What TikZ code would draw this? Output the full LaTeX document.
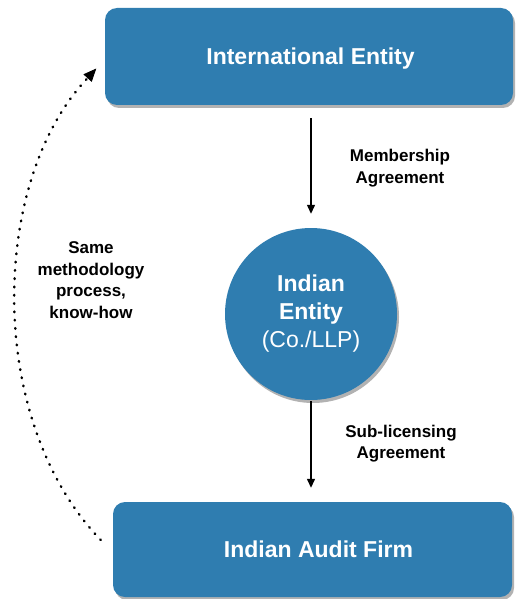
\documentclass[tikz,border=0pt]{standalone}
\usepackage{fontspec}
\setmainfont{Liberation Sans}
\usetikzlibrary{arrows.meta,shadows}
\definecolor{entityblue}{RGB}{47,125,176}
\begin{document}
\begin{tikzpicture}[x=1pt,y=-1pt,
  shade/.style={drop shadow={shadow xshift=2pt,shadow yshift=-3pt,fill=black,opacity=0.3}},
  card/.style={fill=entityblue,rounded corners=12pt,shade,text=white,
    inner sep=0pt,text height=16.5pt,text depth=0pt,
    font=\bfseries\fontsize{23}{28}\selectfont},
  hub/.style={circle,fill=entityblue,shade,text=white,inner sep=0pt,
    minimum size=172pt,align=center,font=\fontsize{23}{28}\selectfont},
  note/.style={align=center,inner sep=0pt,font=\bfseries\fontsize{17}{21.5}\selectfont},
  flow/.style={line width=1.3pt,-{Triangle[length=9pt,width=8pt]}},
  dots/.style={line width=2.5pt,line cap=round,dash pattern=on 0.7pt off 7.6pt},
  dothead/.style={line width=0.8pt,-{Triangle[length=13pt,width=11pt]}}]
\useasboundingbox (0,0) rectangle (515,599);

% the three parties
\node[card,minimum width=408pt,minimum height=97pt] (intl) at (309,56.5)
  {\hspace*{3pt}International Entity};
\node[hub] (ie) at (311,314)
  {\bfseries Indian\\\bfseries Entity\\(Co./LLP)};
\node[card,minimum width=399pt,minimum height=95pt] (firm) at (312.5,549.5)
  {\hspace*{12pt}Indian Audit Firm};

% agreements flowing down
\draw[flow,shorten <=13pt,shorten >=14pt] (intl.south -| ie) -- (ie.north);
\draw[flow,shorten <=1pt,shorten >=14pt] (ie.south) -- (firm.north -| ie);
\node[note] (ma) at (400,168) {Membership\\Agreement};
\node[note] (sa) at (401,443.5) {Sub-licensing\\Agreement};

% know-how going back up
\coordinate (khs) at ([shift={(-12,-9.5)}]firm.west);
\coordinate (khe) at ([shift={(-8.5,12)}]intl.west);
\draw[dots] (khs) .. controls (-15,420) and (-10,180) .. ([shift={(-8.6,9.5)}]khe);
\draw[dothead] ([shift={(-2,2.2)}]khe) -- (khe);
\node[note] (kh) at (91,280) {Same\\methodology\\process,\\know-how};
\end{tikzpicture}
\end{document}
